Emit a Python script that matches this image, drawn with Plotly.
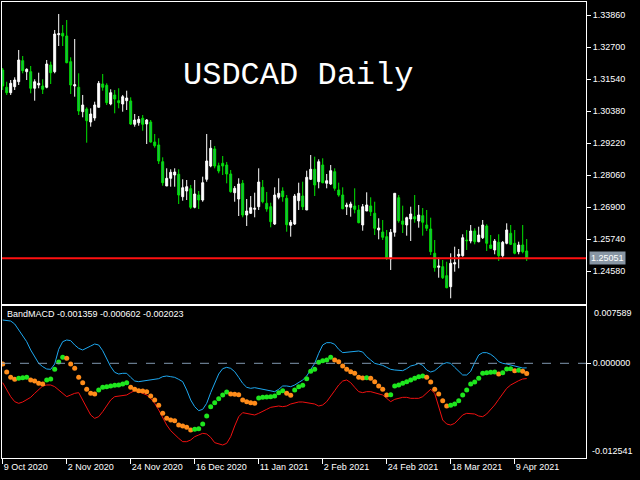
import pandas as pd
import plotly.graph_objects as go

# ---------------- data ----------------
holidays = ["2020-12-25", "2021-01-01"]
dates = [d.strftime("%Y-%m-%d") for d in pd.bdate_range("2020-10-09", "2021-04-14")
         if d.strftime("%Y-%m-%d") not in holidays]

open_ = [1.31878, 1.31251, 1.31055, 1.31272, 1.31453, 1.32215, 1.31816, 1.31816, 1.31215, 1.31334,
         1.31298, 1.31251, 1.32059, 1.31816, 1.33158, 1.33208, 1.33110, 1.32179, 1.31298, 1.31251,
         1.30366, 1.30464, 1.29993, 1.30138, 1.30525, 1.31370, 1.31323, 1.30645, 1.30972, 1.30765,
         1.30645, 1.30765, 1.30754, 1.29909, 1.29967, 1.30127, 1.29920, 1.29993, 1.29268, 1.29159,
         1.28553, 1.27673, 1.27952, 1.28071, 1.28097, 1.27285, 1.27491, 1.27575, 1.26900, 1.27346,
         1.27165, 1.27915, 1.28398, 1.29014, 1.28408, 1.28495, 1.28434, 1.28108, 1.27430, 1.27201,
         1.27770, 1.26621, 1.26683, 1.26828, 1.26922, 1.27625, 1.27045, 1.26922, 1.26295, 1.27263,
         1.27491, 1.27227, 1.26248, 1.26295, 1.27140, 1.27310, 1.26803, 1.27915, 1.28278, 1.27828,
         1.28434, 1.27770, 1.27745, 1.28191, 1.27528, 1.27346, 1.26922, 1.26900, 1.26948, 1.26803,
         1.26259, 1.26766, 1.26948, 1.26683, 1.26078, 1.26005, 1.25835, 1.25026, 1.25994, 1.27248,
         1.26404, 1.26259, 1.26476, 1.26560, 1.26404, 1.26596, 1.26259, 1.26114, 1.25233, 1.24725,
         1.24747, 1.24421, 1.24022, 1.24845, 1.25135, 1.25146, 1.25715, 1.25679, 1.26041, 1.25653,
         1.25798, 1.26223, 1.25534, 1.25353, 1.25632, 1.25146, 1.25595, 1.25958, 1.25595, 1.25291,
         1.25534, 1.25316]

high = [1.31950, 1.31453, 1.31515, 1.31613, 1.32603, 1.32385, 1.31938, 1.32023, 1.31540, 1.31780,
        1.31540, 1.32240, 1.32179, 1.33328, 1.33908, 1.33509, 1.33690, 1.32338, 1.33001, 1.31758,
        1.30972, 1.30525, 1.30489, 1.30728, 1.31479, 1.31733, 1.31395, 1.31178, 1.31153, 1.31215,
        1.30972, 1.31127, 1.30888, 1.30283, 1.30210, 1.30246, 1.30101, 1.30065, 1.29558, 1.29402,
        1.28713, 1.28314, 1.28278, 1.28314, 1.28278, 1.27915, 1.27890, 1.27709, 1.27890, 1.27491,
        1.28010, 1.29558, 1.29340, 1.29123, 1.28517, 1.28760, 1.28543, 1.28253, 1.27673, 1.27952,
        1.27890, 1.27201, 1.27310, 1.27430, 1.28314, 1.27890, 1.27455, 1.27067, 1.27625, 1.27952,
        1.27625, 1.27346, 1.26440, 1.27383, 1.27792, 1.27828, 1.28227, 1.28796, 1.28735, 1.28640,
        1.28677, 1.28108, 1.28434, 1.28314, 1.27792, 1.27625, 1.27067, 1.27103, 1.27589, 1.26984,
        1.27020, 1.27444, 1.27263, 1.27103, 1.26502, 1.26440, 1.26078, 1.26114, 1.27408, 1.27346,
        1.26959, 1.26560, 1.26922, 1.27346, 1.26984, 1.26875, 1.26803, 1.26524, 1.25715, 1.25073,
        1.24990, 1.24928, 1.25233, 1.25472, 1.25389, 1.25922, 1.26078, 1.26259, 1.26139, 1.26197,
        1.26440, 1.26284, 1.25896, 1.25751, 1.25922, 1.25679, 1.26320, 1.26259, 1.26078, 1.25653,
        1.26259, 1.25751]

low = [1.31153, 1.30972, 1.30972, 1.31153, 1.31334, 1.31758, 1.31515, 1.31033, 1.30765, 1.31215,
       1.31008, 1.31215, 1.31370, 1.31758, 1.32747, 1.32747, 1.32120, 1.31008, 1.30910, 1.30246,
       1.30163, 1.29242, 1.29822, 1.30040, 1.30525, 1.31127, 1.30609, 1.30598, 1.30308, 1.30489,
       1.30366, 1.30428, 1.29884, 1.29822, 1.29858, 1.29677, 1.29195, 1.29242, 1.29061, 1.28470,
       1.27683, 1.27673, 1.27647, 1.27647, 1.27020, 1.27140, 1.27165, 1.26839, 1.26864, 1.26839,
       1.27103, 1.27828, 1.28351, 1.28314, 1.28133, 1.28071, 1.27770, 1.27430, 1.27103, 1.26585,
       1.26538, 1.26223, 1.26658, 1.26538, 1.26803, 1.27045, 1.26741, 1.26175, 1.26259, 1.27190,
       1.27103, 1.26016, 1.25835, 1.26259, 1.26803, 1.26803, 1.26803, 1.27890, 1.27310, 1.27589,
       1.27770, 1.27589, 1.27709, 1.27502, 1.27285, 1.26828, 1.26621, 1.26560, 1.26683, 1.26320,
       1.26052, 1.26766, 1.26585, 1.25896, 1.25740, 1.25715, 1.24990, 1.24628, 1.25835, 1.26342,
       1.25969, 1.25871, 1.25679, 1.26342, 1.26161, 1.25871, 1.26041, 1.25171, 1.24566, 1.24348,
       1.24301, 1.23964, 1.23602, 1.24566, 1.24689, 1.25110, 1.25353, 1.25595, 1.25559, 1.25632,
       1.25751, 1.25316, 1.25389, 1.25197, 1.24954, 1.25073, 1.25559, 1.25534, 1.25197, 1.25197,
       1.25233, 1.24954]

close = [1.31298, 1.31055, 1.31395, 1.31515, 1.32240, 1.31853, 1.31903, 1.31215, 1.31453, 1.31395,
         1.31178, 1.32095, 1.31780, 1.33183, 1.33193, 1.33110, 1.32143, 1.31334, 1.31345, 1.30391,
         1.30609, 1.30040, 1.30283, 1.30609, 1.31395, 1.31251, 1.30692, 1.31055, 1.30826, 1.30692,
         1.30910, 1.30863, 1.29920, 1.30065, 1.30090, 1.29909, 1.30065, 1.29268, 1.29133, 1.28579,
         1.27792, 1.27952, 1.28169, 1.28180, 1.27346, 1.27611, 1.27647, 1.26900, 1.27383, 1.27165,
         1.27792, 1.28579, 1.29039, 1.28398, 1.28216, 1.28398, 1.28108, 1.27466, 1.27589, 1.27745,
         1.26621, 1.26766, 1.26886, 1.26864, 1.27818, 1.27103, 1.26839, 1.26378, 1.27346, 1.27408,
         1.27285, 1.26270, 1.26357, 1.27310, 1.27408, 1.26922, 1.27988, 1.28278, 1.27709, 1.28553,
         1.27792, 1.27865, 1.28227, 1.27589, 1.27346, 1.26850, 1.26984, 1.27020, 1.26828, 1.26342,
         1.26922, 1.26984, 1.26741, 1.26139, 1.26150, 1.25813, 1.25052, 1.25994, 1.27408, 1.26415,
         1.26284, 1.26524, 1.26658, 1.26476, 1.26621, 1.26357, 1.26139, 1.25291, 1.24711, 1.24773,
         1.24348, 1.23986, 1.24870, 1.24892, 1.25197, 1.25798, 1.25690, 1.26041, 1.25653, 1.25896,
         1.26259, 1.25595, 1.25414, 1.25679, 1.25146, 1.25632, 1.26078, 1.25559, 1.25233, 1.25534,
         1.25291, 1.25051]

macd = [-0.000091, -0.001151, -0.001857, -0.002122, -0.001990, -0.001901, -0.001857, -0.002210, -0.002343, -0.002652,
        -0.002740, -0.002210, -0.002078, -0.000798, 0.000173, 0.000791, 0.000659, -0.000091, -0.000665, -0.001857,
        -0.002564, -0.003446, -0.003976, -0.004064, -0.003534, -0.003181, -0.003093, -0.003005, -0.002917, -0.002872,
        -0.002740, -0.002564, -0.003181, -0.003446, -0.003623, -0.003667, -0.003755, -0.004329, -0.004859, -0.005566,
        -0.006625, -0.007287, -0.007510, -0.007598, -0.008172, -0.008304, -0.008481, -0.008834, -0.008746, -0.008658,
        -0.008039, -0.006978, -0.005742, -0.005212, -0.004682, -0.004196, -0.003799, -0.004064, -0.004108, -0.004152,
        -0.004859, -0.005080, -0.005212, -0.005301, -0.004594, -0.004506, -0.004461, -0.004417, -0.004329, -0.003887,
        -0.003623, -0.003976, -0.004241, -0.003534, -0.003093, -0.002917, -0.002034, -0.001063, -0.000798, 0.000129,
        0.000350, 0.000438, 0.000791, 0.000438, 0.000218, -0.000356, -0.000798, -0.001107, -0.001327, -0.001857,
        -0.001945, -0.001901, -0.001990, -0.002431, -0.003005, -0.003446, -0.004196, -0.004152, -0.003005, -0.002872,
        -0.002652, -0.002431, -0.002210, -0.001990, -0.001770, -0.001681, -0.001857, -0.002475, -0.003446, -0.004064,
        -0.004947, -0.005654, -0.005566, -0.005389, -0.004947, -0.004196, -0.003534, -0.002740, -0.002475, -0.001990,
        -0.001327, -0.001240, -0.001195, -0.001151, -0.001416, -0.001240, -0.000754, -0.000709, -0.000974, -0.000930,
        -0.001063, -0.001359]

# g = rising (green dot), o = falling (orange dot)
macd_state = list("oooogggooo" "oggggg" "oooooooo" "gggggggg" "oooooooooooooooo"
                  "ggggggggg" "ooooooo" "ggggggg" "oo" "gggggggggg" "oooooooo" "g" "ooooo"
                  "ggggggggg" "oooooo" "gggggggggggg" "o" "ggg" "o" "g" "oo")

upper = [0.005735, 0.005647, 0.005603, 0.005206, 0.004411, 0.003749, 0.002866, 0.001763, 0.000791, -0.000003,
         -0.000445, -0.000754, -0.000798, -0.000091, 0.001851, 0.002866, 0.003087, 0.002999, 0.002425, 0.001983,
         0.001763, 0.001983, 0.002292, 0.002557, 0.002425, 0.001674, 0.000659, -0.000445, -0.001195, -0.001416,
         -0.001327, -0.001327, -0.001857, -0.002343, -0.002431, -0.002343, -0.002343, -0.002210, -0.002122, -0.002034,
         -0.001770, -0.001681, -0.001770, -0.001857, -0.002122, -0.002431, -0.003534, -0.004859, -0.005742, -0.006271,
         -0.006095, -0.005301, -0.003887, -0.002564, -0.001416, -0.000709, -0.000533, -0.000665, -0.001107, -0.001857,
         -0.002652, -0.003181, -0.003314, -0.003226, -0.003314, -0.003446, -0.003534, -0.003623, -0.003755, -0.003446,
         -0.003005, -0.003005, -0.003093, -0.002872, -0.002564, -0.002210, -0.001681, -0.000886, -0.000003, 0.001321,
         0.002425, 0.002734, 0.002734, 0.002513, 0.001851, 0.001409, 0.001454, 0.001542, 0.001630, 0.001630,
         0.001498, 0.000880, 0.000438, -0.000003, -0.000136, -0.000268, -0.000533, -0.000798, -0.000886, -0.000974,
         -0.000974, -0.000709, -0.000356, -0.000224, -0.000003, -0.000268, -0.000886, -0.001151, -0.000974, -0.000533,
         -0.000091, 0.000085, -0.000003, -0.000533, -0.001107, -0.001548, -0.001548, -0.001063, 0.000085, 0.001100,
         0.001409, 0.001409, 0.001189, 0.000791, 0.000218, -0.000003, -0.000091, -0.000224, -0.000356, -0.000445,
         -0.000621, -0.000602]

lower = [-0.002564, -0.003534, -0.004417, -0.005080, -0.005301, -0.005124, -0.004859, -0.004506, -0.003976, -0.003446,
         -0.003005, -0.002872, -0.002872, -0.003093, -0.003534, -0.004064, -0.004417, -0.004196, -0.003976, -0.003887,
         -0.004859, -0.005962, -0.006845, -0.007287, -0.007066, -0.006404, -0.005654, -0.004859, -0.004417, -0.004329,
         -0.004329, -0.004196, -0.003887, -0.003623, -0.003755, -0.003976, -0.004196, -0.004638, -0.005301, -0.006183,
         -0.007154, -0.008172, -0.008920, -0.009494, -0.009935, -0.010377, -0.010377, -0.010156, -0.009715, -0.009494,
         -0.009273, -0.009361, -0.009803, -0.010509, -0.010686, -0.010818, -0.010597, -0.009715, -0.008304, -0.007066,
         -0.006536, -0.006625, -0.006713, -0.006845, -0.006625, -0.006404, -0.006095, -0.005830, -0.005742, -0.005654,
         -0.005742, -0.005654, -0.005389, -0.005212, -0.005124, -0.005124, -0.005212, -0.005301, -0.005389, -0.005654,
         -0.005521, -0.005080, -0.004417, -0.003623, -0.002872, -0.002343, -0.002210, -0.002564, -0.003181, -0.003755,
         -0.003887, -0.003755, -0.003755, -0.003887, -0.003976, -0.004196, -0.004638, -0.005080, -0.004771, -0.004638,
         -0.004506, -0.004506, -0.004638, -0.004638, -0.004638, -0.004417, -0.003976, -0.003446, -0.003976, -0.005742,
         -0.007510, -0.008039, -0.008172, -0.007949, -0.007419, -0.006845, -0.006625, -0.006625, -0.006713, -0.006978,
         -0.007066, -0.006713, -0.006183, -0.005521, -0.004771, -0.003976, -0.003314, -0.002872, -0.002564, -0.002299,
         -0.002078, -0.002023]

price_ticks = [1.33860, 1.32700, 1.31540, 1.30380, 1.29220, 1.28060, 1.26900, 1.25740, 1.24580]
date_ticks = ["2020-10-09", "2020-11-02", "2020-11-24", "2020-12-16", "2021-01-11",
              "2021-02-02", "2021-02-24", "2021-03-18", "2021-04-09"]
date_labels = ["9 Oct 2020", "2 Nov 2020", "24 Nov 2020", "16 Dec 2020", "11 Jan 2021",
               "2 Feb 2021", "24 Feb 2021", "18 Mar 2021", "9 Apr 2021"]
last_price = 1.25051
macd_range = [-0.012541, 0.007589]
price_range = [1.23395, 1.343425]

# ---------------- figure ----------------
FONT = "Liberation Sans"
W, H = 640, 480
ML, MR, MT, MB = 2, 54, 2, 22
PH = H - MT - MB
PW = W - ML - MR

def py(px):  # pixel row -> paper y
    return (H - MB - px) / PH

dot_colors = ["#1EE61E" if s == "g" else "#FF8C1A" for s in macd_state]

fig = go.Figure()
fig.add_trace(go.Candlestick(
    x=dates, open=open_, high=high, low=low, close=close,
    xaxis="x", yaxis="y",
    increasing=dict(line=dict(color="#FFFFFF", width=1), fillcolor="#FFFFFF"),
    decreasing=dict(line=dict(color="#00E600", width=1), fillcolor="#20B05A"),
    whiskerwidth=0, showlegend=False, hoverinfo="skip"))

fig.add_trace(go.Scatter(x=dates, y=upper, mode="lines", xaxis="x2", yaxis="y2",
                         line=dict(color="#1EA8F0", width=1), showlegend=False, hoverinfo="skip"))
fig.add_trace(go.Scatter(x=dates, y=lower, mode="lines", xaxis="x2", yaxis="y2",
                         line=dict(color="#F01010", width=1), showlegend=False, hoverinfo="skip"))
fig.add_trace(go.Scatter(x=dates, y=macd, mode="markers", xaxis="x2", yaxis="y2",
                         marker=dict(size=5, color=dot_colors, line=dict(width=0)),
                         showlegend=False, hoverinfo="skip"))

xr = [-0.175, 145.825]
axis_common = dict(showgrid=False, zeroline=False, showline=True, mirror=True,
                   linecolor="#FFFFFF", linewidth=1)

fig.update_layout(
    width=W, height=H,
    margin=dict(l=ML, r=MR, t=MT, b=MB, pad=0, autoexpand=False),
    paper_bgcolor="#000000", plot_bgcolor="#000000",
    font=dict(family=FONT, size=9, color="#FFFFFF"),
    showlegend=False, hovermode=False, dragmode=False,
    xaxis=dict(axis_common, type="category", range=xr, anchor="y", domain=[0, 1],
               showticklabels=False, ticks="", rangeslider=dict(visible=False),
               categoryorder="array", categoryarray=dates),
    yaxis=dict(axis_common, domain=[py(304), 1], anchor="x", side="right", range=price_range,
               tickvals=price_ticks, ticktext=[f"{v:.5f}" for v in price_ticks],
               ticks="outside", ticklen=4, tickcolor="#FFFFFF", tickwidth=1,
               tickfont=dict(family=FONT, size=9, color="#FFFFFF")),
    xaxis2=dict(axis_common, type="category", range=xr, anchor="y2", domain=[0, 1],
                categoryorder="array", categoryarray=dates,
                tickvals=date_ticks, ticktext=date_labels, ticks="outside", ticklen=5,
                tickcolor="#FFFFFF", tickwidth=1, ticklabelposition="outside right",
                tickfont=dict(family=FONT, size=9, color="#FFFFFF")),
    yaxis2=dict(axis_common, domain=[0, py(306)], anchor="x2", side="right", range=macd_range,
                tickvals=[0], ticktext=["0.000000"], ticks="outside", ticklen=4,
                tickcolor="#FFFFFF", tickwidth=1,
                tickfont=dict(family=FONT, size=9, color="#FFFFFF")),
)

# horizontal price line and MACD zero line
fig.add_shape(type="line", xref="x domain", yref="y", x0=0, x1=1, y0=last_price, y1=last_price,
              line=dict(color="#FF1010", width=2))
fig.add_shape(type="line", xref="x2 domain", yref="y2", x0=0, x1=1, y0=0, y1=0,
              line=dict(color="#8098B0", width=1, dash="dash"))

# texts
fig.add_annotation(text="USDCAD Daily", xref="paper", yref="paper", x=(181 - ML) / PW,
                   y=py(75), xanchor="left", yanchor="middle", showarrow=False,
                   font=dict(family="Liberation Mono", size=32, color="#FFFFFF"))
fig.add_annotation(text="BandMACD %.6f %.6f %.6f" % (macd[-1], upper[-1], lower[-1]),
                   xref="paper", yref="paper", x=(5 - ML) / PW, y=py(314),
                   xanchor="left", yanchor="middle", showarrow=False,
                   font=dict(family=FONT, size=9, color="#FFFFFF"))
fig.add_annotation(text=f"{last_price:.5f}", xref="paper", yref="y", x=1 + 3 / PW,
                   y=last_price, xanchor="left", yanchor="middle", showarrow=False,
                   bgcolor="#8896A4", borderpad=1,
                   font=dict(family=FONT, size=9, color="#FFFFFF"))
fig.add_annotation(text="%.6f" % macd_range[1], xref="paper", yref="y2", x=1 + 6 / PW,
                   y=macd_range[1], xanchor="left", yanchor="top", showarrow=False,
                   font=dict(family=FONT, size=9, color="#FFFFFF"))
fig.add_annotation(text="%.6f" % macd_range[0], xref="paper", yref="y2", x=1 + 4 / PW,
                   y=macd_range[0], xanchor="left", yanchor="bottom", showarrow=False,
                   font=dict(family=FONT, size=9, color="#FFFFFF"))

fig.write_html("out.html", config={"displayModeBar": False, "staticPlot": True},
               post_script="document.body.style.margin='0';document.body.style.overflow='hidden';")
